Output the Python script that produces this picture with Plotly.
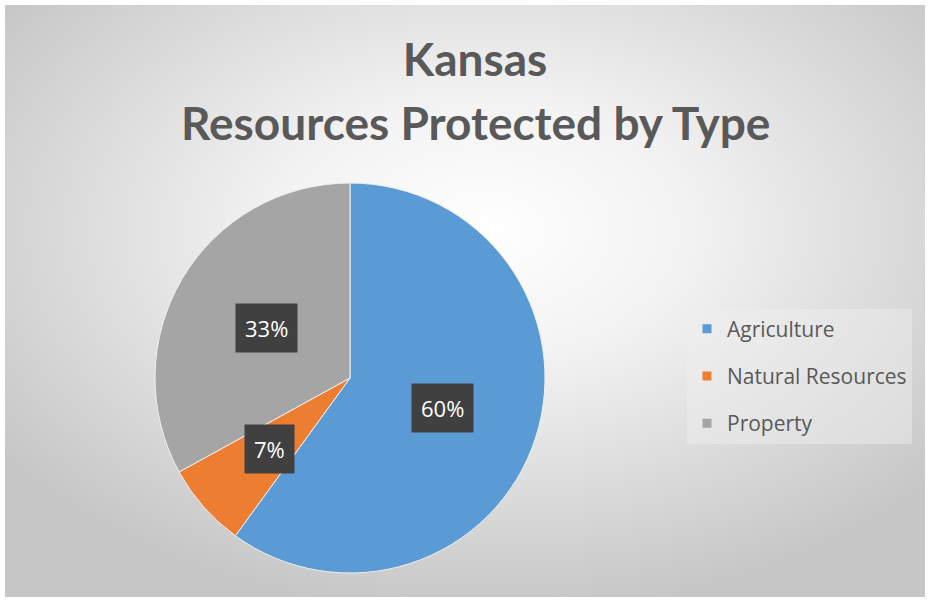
import numpy as np
import plotly.graph_objects as go
from urllib.parse import quote

# ---- data ----
categories = ["Agriculture", "Natural Resources", "Property"]
values = [60, 7, 33]
colors = ["#5B9BD5", "#ED7D31", "#A5A5A5"]
title_line1 = "Kansas"
title_line2 = "Resources Protected by Type"

W, H = 928, 601
cx, cy, R = 350, 378, 195  # pie centre / radius in pixels
label_r = [0.5, 0.55, 0.5]  # label distance from centre (fraction of radius)

fig = go.Figure()

fig.add_trace(go.Pie(
    labels=categories, values=values, sort=False, direction="clockwise",
    rotation=0, marker=dict(colors=colors, line=dict(color="#f0f0f0", width=1)),
    textinfo="none", hoverinfo="label+percent", showlegend=False,
    domain=dict(x=[(cx - R) / W, (cx + R) / W], y=[1 - (cy + R) / H, 1 - (cy - R) / H]),
))

# legend entries (dummy traces, one legend group each for spacing)
for cat, col in zip(categories, colors):
    fig.add_trace(go.Scatter(x=[None], y=[None], mode="markers", name=cat,
                             legendgroup=cat,
                             marker=dict(symbol="square", size=9, color=col)))

# data labels at mid-angle of each slice
tot = float(np.sum(values))
cum = np.cumsum([0] + values[:-1])
for v, c0, fr in zip(values, cum, label_r):
    theta = np.deg2rad((c0 + v / 2) / tot * 360)
    d = fr * R
    px = cx + d * np.sin(theta)
    py = cy - d * np.cos(theta)
    fig.add_annotation(x=px / W, y=1 - py / H, xref="paper", yref="paper",
                       xanchor="center", yanchor="middle",
                       text=f"{round(v / tot * 100)}%", showarrow=False,
                       font=dict(family="Open Sans", size=22, color="white"),
                       bgcolor="#404040", borderpad=9)

fig.add_annotation(x=475 / W, y=1 - 122 / H, xref="paper", yref="paper",
                   xanchor="center", yanchor="middle",
                   text=f"<b>{title_line2}</b>", showarrow=False,
                   font=dict(family="Lato", size=46, color="#595959"))

svg = ("<svg xmlns='http://www.w3.org/2000/svg' width='920' height='592'>"
       "<defs><radialGradient id='g' cx='52%' cy='38%' r='65%'>"
       "<stop offset='0' stop-color='#ffffff'/><stop offset='0.35' stop-color='#f2f2f2'/>"
       "<stop offset='1' stop-color='#c6c6c6'/></radialGradient></defs>"
       "<rect width='100%' height='100%' fill='url(#g)'/></svg>")
bg_src = "data:image/svg+xml;charset=utf-8," + quote(svg)

fig.update_layout(
    width=W, height=H, margin=dict(l=0, r=0, t=0, b=0),
    paper_bgcolor="white", plot_bgcolor="rgba(0,0,0,0)",
    title=dict(text=f"<b>{title_line1}</b>", x=475 / W, xanchor="center",
               y=1 - 60 / H, yanchor="middle",
               font=dict(family="Lato", size=46, color="#595959")),
    xaxis=dict(visible=False), yaxis=dict(visible=False),
    legend=dict(x=687 / W, y=1 - 376 / H, xanchor="left", yanchor="middle",
                font=dict(family="Open Sans", size=21, color="#595959"),
                tracegroupgap=17, bgcolor="rgba(240,240,240,0.45)"),
    images=[dict(source=bg_src, xref="paper", yref="paper", x=5 / W, y=1 - 5 / H,
                 sizex=920 / W, sizey=592 / H, xanchor="left", yanchor="top",
                 sizing="stretch", layer="below")],
)

fig.write_html("out.html", config={"displayModeBar": False},
               post_script="document.body.style.margin='0px';")
